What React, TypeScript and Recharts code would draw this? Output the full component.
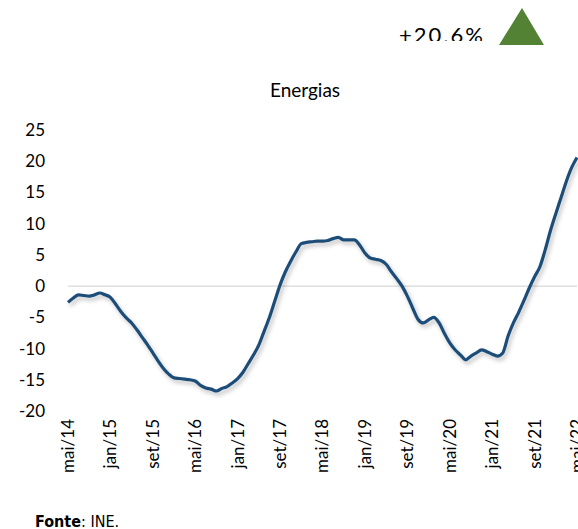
import { LineChart, Line, XAxis, YAxis, ReferenceLine } from "recharts";

// monthly series, mai/14 .. mai/22 (y/y %)
const MONTH_NAMES = ["jan", "fev", "mar", "abr", "mai", "jun", "jul", "ago", "set", "out", "nov", "dez"];
const START_MONTH = 4; // mai
const START_YEAR = 14;

const energias = [
  -2.6, -1.9, -1.4, -1.5, -1.6, -1.4, -1.1, -1.4, -1.8, -2.9,
  -4.1, -5.1, -5.9, -7.0, -8.2, -9.4, -10.7, -12.0, -13.2, -14.1,
  -14.7, -14.8, -14.9, -15.0, -15.2, -15.9, -16.3, -16.5, -16.8, -16.4,
  -16.1, -15.5, -14.8, -13.8, -12.4, -11.0, -9.4, -7.2, -5.0, -2.4,
  0.2, 2.3, 4.0, 5.5, 6.8, 7.0, 7.1, 7.2, 7.2, 7.3,
  7.6, 7.8, 7.4, 7.4, 7.4, 6.6, 5.3, 4.5, 4.3, 4.1,
  3.5, 2.3, 1.2, 0.0, -1.6, -3.5, -5.3, -5.9, -5.4, -5.0,
  -5.9, -7.6, -9.1, -10.2, -11.0, -11.8, -11.2, -10.7, -10.2, -10.5,
  -10.9, -11.2, -10.7, -8.0, -5.9, -4.2, -2.3, -0.3, 1.5, 3.1,
  5.8, 8.9, 11.6, 14.2, 16.8, 19.0, 20.6,
];

const yTicks = [-20, -15, -10, -5, 0, 5, 10, 15, 20, 25];
const title = "Energias";
const headline = "+20.6%";

const months = energias.map((_, i) => {
  const m = START_MONTH + i;
  return `${MONTH_NAMES[m % 12]}/${START_YEAR + Math.floor(m / 12)}`;
});
const data = months.map((month, i) => ({ month, value: energias[i] }));

const FONT = "Lato, 'Open Sans', sans-serif";

function MonthTick({ x, y, payload }: any) {
  return (
    <text
      x={x}
      y={y}
      dy="0.35em"
      transform={`rotate(-90, ${x}, ${y})`}
      textAnchor="end"
      fill="#000"
      fontSize={17}
      fontFamily={FONT}
    >
      {payload.value}
    </text>
  );
}

export default function App() {
  return (
    <div
      style={{
        position: "absolute",
        left: 0,
        top: 0,
        width: 578,
        height: 529,
        overflow: "hidden",
        background: "#fff",
        fontFamily: FONT,
      }}
    >
      <LineChart width={600} height={480} data={data} margin={{ top: 130, right: 23, left: 0, bottom: 0 }}>
        <defs>
          <filter id="lineShadow" x="-5%" y="-5%" width="110%" height="120%">
            <feDropShadow dx="2" dy="3" stdDeviation="2" floodColor="#000" floodOpacity="0.25" />
          </filter>
        </defs>
        <XAxis
          dataKey="month"
          interval={7}
          tick={<MonthTick />}
          axisLine={false}
          tickLine={false}
          height={69}
        />
        <YAxis
          domain={[-20, 25]}
          ticks={yTicks}
          interval={0}
          width={68}
          tickMargin={17}
          axisLine={false}
          tickLine={false}
          tick={{ fill: "#000", fontSize: 17, fontFamily: FONT }}
        />
        <ReferenceLine y={0} stroke="#d9d9d9" strokeWidth={1.2} />
        <Line
          dataKey="value"
          type="monotone"
          stroke="#1f4e79"
          strokeWidth={3.2}
          dot={false}
          filter="url(#lineShadow)"
          isAnimationActive={false}
        />
      </LineChart>

      <svg
        width={578}
        height={529}
        style={{ position: "absolute", left: 0, top: 0, pointerEvents: "none" }}
      >
        <defs>
          <clipPath id="headClip">
            <rect x={0} y={0} width={578} height={41} />
          </clipPath>
        </defs>
        <text x={305} y={97} textAnchor="middle" fontSize={19} fontFamily={FONT} fill="#000">
          {title}
        </text>
        <text
          x={399}
          y={42.5}
          fontSize={22}
          letterSpacing={2}
          fontFamily={FONT}
          fill="#000"
          clipPath="url(#headClip)"
        >
          {headline}
        </text>
        <polygon points="522,8 499,45 544,45" fill="#548235" />
        <text
          x={35}
          y={527}
          fontSize={16}
          fontFamily="'Liberation Sans Narrow', 'DejaVu Sans Condensed', sans-serif"
          fill="#000"
        >
          <tspan fontWeight="bold">Fonte</tspan>
          <tspan>: INE.</tspan>
        </text>
      </svg>
    </div>
  );
}
